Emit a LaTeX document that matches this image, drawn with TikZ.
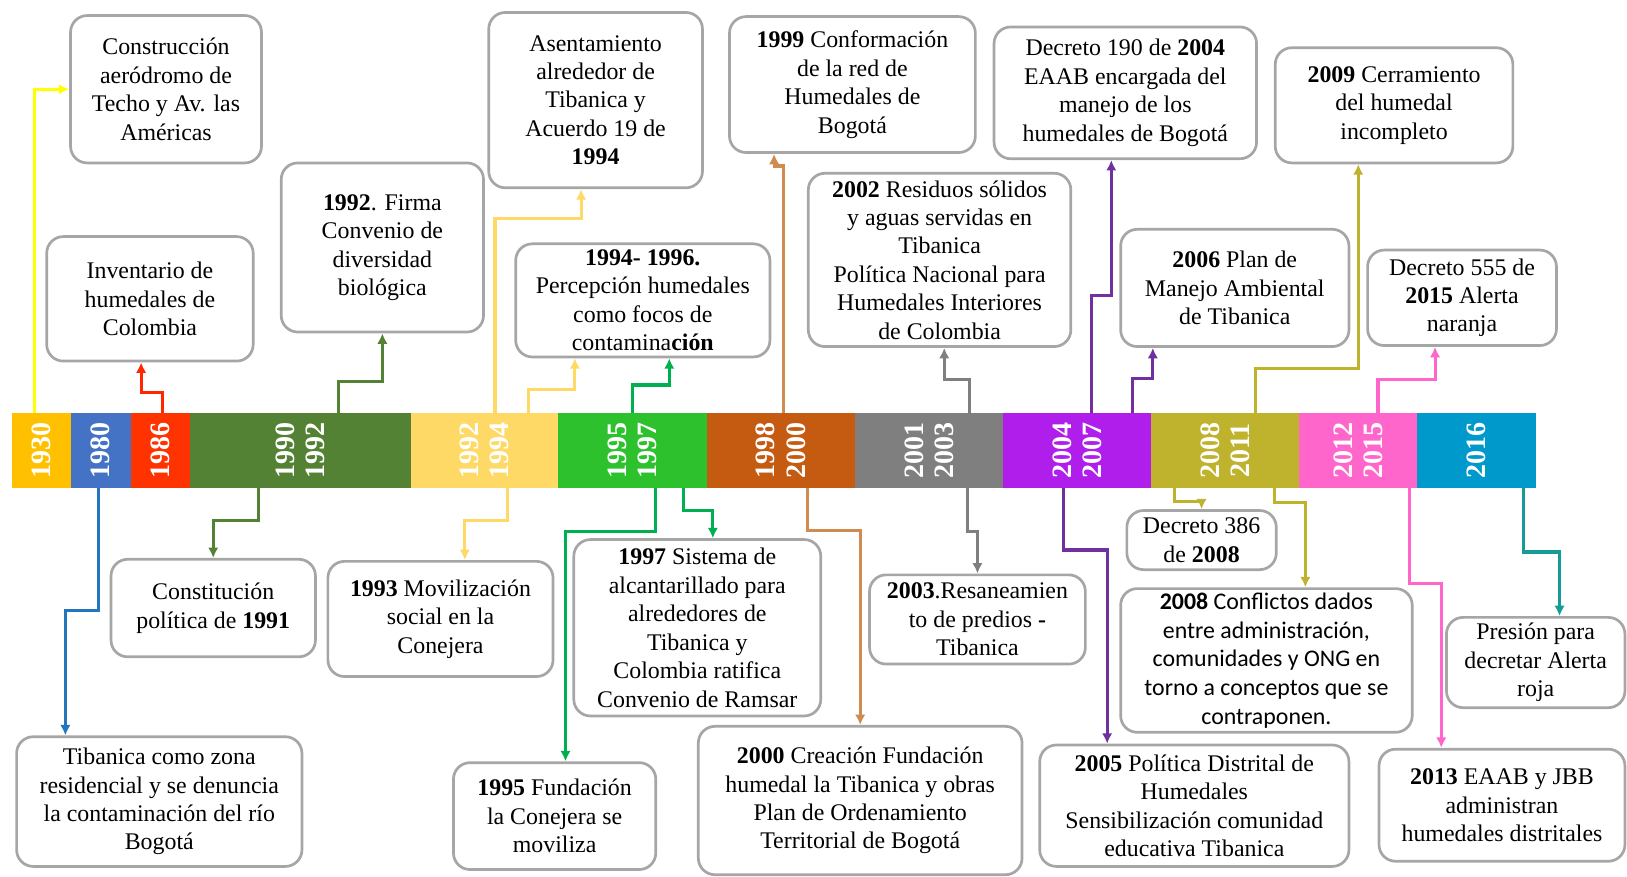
\documentclass[tikz,border=0pt]{standalone}
\usepackage{fontspec}
\setmainfont{Liberation Serif}
\newfontfamily\calibfont{Carlito}
\usetikzlibrary{positioning,calc,arrows.meta}
\definecolor{boxgray}{HTML}{A6A6A6}
\definecolor{c1930}{HTML}{FFC000}
\definecolor{c1980}{HTML}{4472C4}
\definecolor{c1986}{HTML}{FF3300}
\definecolor{c1990}{HTML}{548235}
\definecolor{c1992}{HTML}{FFD966}
\definecolor{c1995}{HTML}{2EC12E}
\definecolor{c1998}{HTML}{C55A11}
\definecolor{c2001}{HTML}{7F7F7F}
\definecolor{c2004}{HTML}{B01EEB}
\definecolor{c2008}{HTML}{BFB22D}
\definecolor{c2012}{HTML}{FF66CC}
\definecolor{c2016}{HTML}{0099CC}
\definecolor{k1930}{HTML}{FFFF00}
\definecolor{k1980}{HTML}{2475BD}
\definecolor{k1986}{HTML}{FF2600}
\definecolor{k1995}{HTML}{00B050}
\definecolor{k1998}{HTML}{D08B50}
\definecolor{k2004}{HTML}{7030A0}
\definecolor{k2016}{HTML}{169C96}
\begin{document}
\begin{tikzpicture}[%
      x=0.5pt,y=-0.5pt,
      box/.style={rectangle,draw=boxgray,line width=1.3pt,fill=white,align=center,rounded corners=8pt,inner sep=2pt,font=\fontsize{11.5}{13.7}\selectfont},
      seg/.style={rectangle,fill=#1,inner sep=0pt,outer sep=0pt,minimum height=36pt},
      yr/.style={rotate=90,text=white,align=center,inner sep=0pt,font=\fontsize{13.5}{14.5}\selectfont\bfseries},
      conn/.style={-{Latex[length=5pt,width=5pt]},line width=1.5pt,draw=#1}
      ]
      \useasboundingbox (0,0) rectangle (1568,845);
      \node[seg=c1930,minimum width=28pt] (s1930) at (40,434) {};
      \node[seg=c1980,minimum width=29pt,right=0pt of s1930] (s1980) {};
      \node[seg=c1986,minimum width=28.5pt,right=0pt of s1980] (s1986) {};
      \node[seg=c1990,minimum width=106.5pt,right=0pt of s1986] (s1990) {};
      \node[seg=c1992,minimum width=71pt,right=0pt of s1990] (s1992) {};
      \node[seg=c1995,minimum width=71.5pt,right=0pt of s1992] (s1995) {};
      \node[seg=c1998,minimum width=71.5pt,right=0pt of s1995] (s1998) {};
      \node[seg=c2001,minimum width=71.5pt,right=0pt of s1998] (s2001) {};
      \node[seg=c2004,minimum width=71pt,right=0pt of s2001] (s2004) {};
      \node[seg=c2008,minimum width=71.5pt,right=0pt of s2004] (s2008) {};
      \node[seg=c2012,minimum width=57pt,right=0pt of s2008] (s2012) {};
      \node[seg=c2016,minimum width=57pt,right=0pt of s2012] (s2016) {};
      \node[yr] (y1930) at (s1930) {1930};
      \node[yr] (y1980) at (s1980) {1980};
      \node[yr] (y1986) at (s1986) {1986};
      \node[yr] (y1990) at (s1990) {1990\\1992};
      \node[yr] (y1992) at (s1992) {1992\\1994};
      \node[yr] (y1995) at (s1995) {1995\\1997};
      \node[yr] (y1998) at (s1998) {1998\\2000};
      \node[yr] (y2001) at (s2001) {2001\\2003};
      \node[yr] (y2004) at (s2004) {2004\\2007};
      \node[yr] (y2008) at (s2008) {2008\\2011};
      \node[yr] (y2012) at (s2012) {2012\\2015};
      \node[yr] (y2016) at (s2016) {2016};
      \draw (160,86) node[box,minimum width=92pt,minimum height=71pt] (b1) {Construcción\\aeródromo de\\Techo y Av. las\\Américas};
      \draw (144.5,288) node[box,minimum width=99.5pt,minimum height=60pt] (b2) {Inventario de\\humedales de\\Colombia};
      \draw (368.5,238.5) node[box,minimum width=97.5pt,minimum height=81.5pt] (b3) {\textbf{1992}. Firma\\Convenio de\\diversidad\\biológica};
      \draw (574,96.5) node[box,minimum width=103pt,minimum height=84.5pt] (b4) {Asentamiento\\alrededor de\\Tibanica y\\Acuerdo 19 de\\\textbf{1994}};
      \draw (619.5,289.5) node[box,minimum width=122.5pt,minimum height=54.5pt] (b5) {\textbf{1994- 1996.}\\Percepción humedales\\como focos de\\contamina\textbf{ción}};
      \draw (821.5,81.5) node[box,minimum width=118.5pt,minimum height=65.5pt] (b6) {\textbf{1999} Conformación\\de la red de\\Humedales de\\Bogotá};
      \draw (905.5,250.5) node[box,minimum width=126.5pt,minimum height=83.5pt] (b7) {\textbf{2002} Residuos sólidos\\y aguas servidas en\\Tibanica\\Política Nacional para\\Humedales Interiores\\de Colombia};
      \draw (1084.5,89.5) node[box,minimum width=126.5pt,minimum height=63.5pt] (b8) {Decreto 190 de \textbf{2004}\\EAAB encargada del\\manejo de los\\humedales de Bogotá};
      \draw (1190,277.5) node[box,minimum width=110pt,minimum height=56.5pt] (b9) {\textbf{2006} Plan de\\Manejo Ambiental\\de Tibanica};
      \draw (1343.5,101.5) node[box,minimum width=114.5pt,minimum height=55.5pt] (b10) {\textbf{2009} Cerramiento\\del humedal\\incompleto};
      \draw (1409,287) node[box,minimum width=91pt,minimum height=46pt] (b11) {Decreto 555 de\\\textbf{2015} Alerta\\naranja};
      \draw (153.5,772.5) node[box,minimum width=137.5pt,minimum height=62.5pt] (b12) {Tibanica como zona\\residencial y se denuncia\\la contaminación del río\\Bogotá};
      \draw (205.5,586) node[box,minimum width=98.5pt,minimum height=47pt] (b13) {Constitución\\política de \textbf{1991}};
      \draw (424.5,596.5) node[box,minimum width=108.5pt,minimum height=55.5pt] (b14) {\textbf{1993} Movilización\\social en la\\Conejera};
      \draw (534.5,786.5) node[box,minimum width=97.5pt,minimum height=51.5pt] (b15) {\textbf{1995} Fundación\\la Conejera se\\moviliza};
      \draw (672,605) node[box,minimum width=119pt,minimum height=85pt] (b16) {\textbf{1997} Sistema de\\alcantarillado para\\alrededores de\\Tibanica y\\Colombia ratifica\\Convenio de Ramsar};
      \draw (829,771.5) node[box,minimum width=156pt,minimum height=71.5pt] (b17) {\textbf{2000} Creación Fundación\\humedal la Tibanica y obras\\Plan de Ordenamiento\\Territorial de Bogotá};
      \draw (942,597) node[box,minimum width=104pt,minimum height=43pt] (b18) {\textbf{2003}.Resaneamien\\to de predios \textbf{-}\\Tibanica};
      \draw (1151,776.5) node[box,minimum width=149pt,minimum height=58.5pt] (b19) {\textbf{2005} Política Distrital de\\Humedales\\Sensibilización comunidad\\educativa Tibanica};
      \draw (1158,520.5) node[box,minimum width=72pt,minimum height=28.5pt] (b20) {Decreto 386\\de \textbf{2008}};
      \draw (1220.5,636.5) node[box,minimum width=140.5pt,minimum height=67.5pt,font=\calibfont\fontsize{11.5}{13.85}\selectfont] (b21) {\textbf{2008} Conflictos dados\\entre administración,\\comunidades y ONG en\\torno a conceptos que se\\contraponen.};
      \draw (1480,638.5) node[box,minimum width=86pt,minimum height=43.5pt] (b22) {Presión para\\decretar Alerta\\roja};
      \draw (1447.5,776) node[box,minimum width=118.5pt,minimum height=54pt] (b23) {\textbf{2013} EAAB y JBB\\administran\\humedales distritales};
      \draw[conn=k1930] ($(s1930.north)+(-7,0)$) |- (b1.west);
      \draw[conn=k1986] ($(s1986.north)+(2.5,0)$) -- ++(0,-20) -| ($(b2.south)+(-8.5,0)$);
      \draw[conn=c1990] ($(s1990.north)+(36.5,0)$) -- ++(0,-30) -| (b3.south);
      \draw[conn=c1992] ($(s1992.north)+(10,0)$) -- ++(0,-187) -| ($(b4.south)+(-14,0)$);
      \draw[conn=c1992] ($(s1992.north)+(42,0)$) -- ++(0,-23) -| ($(b5.south)+(-65.5,0)$);
      \draw[conn=k1995] (s1995.north) -- ++(0,-27) -| ($(b5.south)+(25.5,0)$);
      \draw[conn=k1998] ($(s1998.north)+(2.5,0)$) -- ++(0,-238) -| ($(b6.south)+(-75.5,0)$);
      \draw[conn=c2001] ($(s2001.north)+(38.5,0)$) -- ++(0,-32) -| ($(b7.south)+(4.5,0)$);
      \draw[conn=k2004] ($(s2004.north)+(14,0)$) -- ++(0,-113) -| ($(b8.south)+(-13.5,0)$);
      \draw[conn=k2004] ($(s2004.north)+(53,0)$) -- ++(0,-33) -| ($(b9.south)+(-79,0)$);
      \draw[conn=c2008] ($(s2008.north)+(29.5,0)$) -- ++(0,-43) -| ($(b10.south)+(-34.5,0)$);
      \draw[conn=c2012] ($(s2012.north)+(19,0)$) -- ++(0,-32) -| ($(b11.south)+(-26,0)$);
      \draw[conn=k1980] ($(s1980.south)+(-2,0)$) -- ++(0,118) -| ($(b12.north)+(-90.5,0)$);
      \draw[conn=c1990] ($(s1990.south)+(-40.5,0)$) -- ++(0,32) -| (b13.north);
      \draw[conn=c1992] ($(s1992.south)+(22,0)$) -- ++(0,32) -| ($(b14.north)+(23.5,0)$);
      \draw[conn=k1995] ($(s1995.south)+(22.5,0)$) -- ++(0,42) -| ($(b15.north)+(10.5,0)$);
      \draw[conn=k1995] ($(s1995.south)+(49.5,0)$) -- ++(0,22) -| ($(b16.north)+(15,0)$);
      \draw[conn=k1998] ($(s1998.south)+(25.5,0)$) -- ++(0,41) -| (b17.north);
      \draw[conn=c2001] ($(s2001.south)+(36.5,0)$) -- ++(0,42) -| (b18.north);
      \draw[conn=k2004] ($(s2004.south)+(-13,0)$) -- ++(0,60) -| ($(b19.north)+(-84,0)$);
      \draw[conn=c2008] ($(s2008.south)+(-48.5,0)$) -- ++(0,13) -| (b20.north);
      \draw[conn=c2008] ($(s2008.south)+(47.5,0)$) -- ++(0,14) -| ($(b21.north)+(37.5,0)$);
      \draw[conn=c2012] ($(s2012.south)+(49,0)$) -- ++(0,92) -| ($(b23.north)+(-58.5,0)$);
      \draw[conn=k2016] ($(s2016.south)+(45,0)$) -- ++(0,62) -| ($(b22.north)+(23,0)$);
\end{tikzpicture}
\end{document}
